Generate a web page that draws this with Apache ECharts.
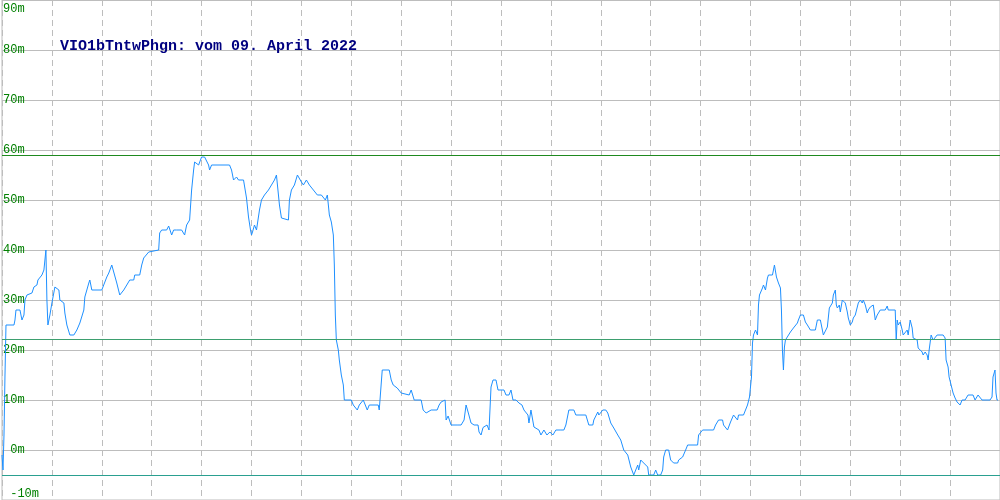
<!DOCTYPE html>
<html>
<head>
<meta charset="utf-8">
<script src="https://cdn.jsdelivr.net/npm/echarts@6/dist/echarts.min.js"></script>
<style>html,body{margin:0;padding:0;background:#fff;}#c{width:1000px;height:500px;}</style>
</head>
<body>
<div id="c"></div>
<script>
// ---- data ----
var titleText = "VIO1bTntwPhgn: vom 09. April 2022";
var yTicks = [-10, 0, 10, 20, 30, 40, 50, 60, 70, 80, 90];
var yTickLabels = [" -10m", " 0m", "10m", "20m", "30m", "40m", "50m", "60m", "70m", "80m", "90m"];
var markValues = [59, 22.1, -5];
var times = [0,1,2,3,4,12,13,14,18,20,22,23,25,30,32,35,36,38,40,42,43,44,45,46,48,50,53,55,57,58,62,63,65,68,72,75,78,82,83,85,87,88,90,100,105,107,110,115,118,122,125,128,132,133,138,140,142,147,148,157,158,160,165,167,168,170,172,175,180,183,185,188,190,192,193,197,200,203,207,208,210,228,230,232,235,237,242,245,247,249,250,251,253,255,258,260,263,267,270,273,275,277,278,280,287,288,290,293,296,298,300,302,305,308,312,316,320,324,326,328,330,332,333,334,335,337,338,340,342,343,350,352,356,358,362,366,368,377,378,380,381,388,390,392,396,400,408,410,413,420,422,425,430,436,438,440,444,445,447,450,456,460,463,465,467,470,473,477,478,480,482,486,488,490,492,495,497,503,505,508,510,512,515,518,521,523,527,528,530,532,533,538,540,543,546,549,552,555,560,563,565,566,568,573,575,585,588,592,593,597,598,600,602,605,607,610,613,617,620,623,627,630,633,635,637,638,640,643,645,647,648,653,655,657,660,662,663,665,668,670,673,675,677,678,682,685,687,697,698,702,713,715,718,722,723,727,730,733,735,737,738,743,745,747,748,749,751,752,753,755,757,758,759,760,762,763,765,767,768,772,773,774,776,778,780,781,782,783,784,785,787,790,793,797,798,800,803,805,807,810,815,817,820,823,825,827,829,832,833,835,836,837,839,840,842,845,847,848,850,852,853,855,857,858,860,862,863,865,867,868,870,872,873,874,875,877,879,880,885,887,888,895,896,897,898,900,902,903,905,907,908,910,912,913,915,917,918,920,922,923,925,927,928,929,931,933,935,937,943,945,946,948,949,951,952,953,955,957,958,960,962,965,968,973,975,978,980,982,990,992,993,995,996,997,998];
var values = [-1,-4,3,15,25,25,26,28,28,26,27,30,31,31.4,32.6,33,34,34,35,36,38,40,30,25,27,29.4,32.6,33,32,30,29.4,27.4,25,23,23,24,25.4,28,30.6,32,33.4,34,32,32,34.6,35.4,37,33.4,31,32,33,34,34,35,35,37,38.4,39.6,40,40,43.4,44,44,44.8,44.4,43,44,44,44,43,45,46,52,56,57.6,57,58.6,58.6,57,56,57,57,56,54,54.6,54,54,50.4,46.6,44,43,43.6,45,44,48,50,51,52,53,54,55,55,49,46.4,46,50,52,53,55,55,53.6,53,54,53,52,51,51,50,51,47,45.6,43,37,27,22,20,18,15,13,10,10,9,8,9,10,8,9,9,8,8,16,16,14,13,12.4,11.4,11,12,10,10,8,7.4,8,8,9,9.6,10,6,6.8,5,5,5,6,9,7.6,5.4,5,5,3.6,3,4.5,5,4,12.6,14,14,12,12,11,11,12,10,10,9.4,9,8,7,5.4,8,8,4.6,4,3,4,3,3.6,3,4,4,4,5,6,8,8,7,7,5,5,6,7.6,7,7,8,8,7.4,5.4,4.4,3,2,0,-1,-3.4,-5,-4,-3,-4,-2,-2.6,-3,-3.4,-5,-5,-4,-5,-5,-4,-1.4,0,0,-2,-2.6,-3,-2.6,-2,-1.4,0,1,1,3,4,4,5,6,6,5,4,5.6,7,6.6,6,7,7,8,9,9,10.6,14.6,21.4,23,24,23,29,31,31,32.4,33,32,34.4,35,35,36,37,34.6,33.4,32.4,28,20,16,20.6,22,22.4,23.6,24.4,25.4,26,27,27,25.6,25,24,24,26,26,23,23.4,24.6,28.4,29.4,31,32,29,28.4,29,27.6,30,29.4,27.6,26.4,25,25.6,26.4,27,27.4,29.4,30,29.4,30,29,27.4,28,28.6,29,29,27.6,26,27,27,28,28,28.8,28,28,22,26,25,25.6,24,23,23,24,23,26,24.4,22.4,22,22,20.4,20,19.6,19,19.6,19,18,20,23,22,22,23,23,22.4,18,16.6,14.6,13,12.6,11.4,10.4,9.6,9.6,9,10,10,11,11,10,11,11,10,10,10.6,14.6,16,11.4,10,10];

var seriesData = times.map(function (t, i) { return [t, values[i]]; });
var labelMap = {};
yTicks.forEach(function (v, i) { labelMap[v] = yTickLabels[i]; });
var yMin = yTicks[0], yMax = yTicks[yTicks.length - 1];

var chart = echarts.init(document.getElementById('c'), null, {renderer: 'canvas'});
chart.setOption({
  animation: false,
  backgroundColor: '#ffffff',
  title: {
    text: titleText,
    left: 60,
    top: 39,
    padding: 0,
    textStyle: {
      fontFamily: 'Liberation Mono',
      fontSize: 15,
      fontWeight: 'bold',
      color: '#000080'
    }
  },
  grid: {
    left: 0, right: 0, top: 0, bottom: 0,
    show: true,
    borderColor: '#bdbdbd',
    borderWidth: 1,
    containLabel: false
  },
  xAxis: {
    type: 'value',
    min: 0,
    max: 1000,
    interval: 50,
    axisLine: {show: false},
    axisTick: {show: false},
    axisLabel: {show: false},
    splitLine: {show: true, lineStyle: {color: '#bdbdbd', width: 1, type: [6, 4]}}
  },
  yAxis: {
    type: 'value',
    min: yMin,
    max: yMax,
    interval: 10,
    axisLine: {show: false},
    axisTick: {show: false},
    axisLabel: {
      inside: true,
      margin: 1,
      color: '#008000',
      fontFamily: 'Liberation Mono',
      fontSize: 12,
      verticalAlign: 'middle',
      verticalAlignMaxLabel: 'top',
      verticalAlignMinLabel: 'bottom',
      formatter: function (v) {
        var s = labelMap[v] !== undefined ? labelMap[v] : '';
        if (v === yMax) return '{top|' + s + '}';
        if (v === yMin) return '{bot|' + s + '}';
        return s;
      },
      rich: {
        top: {color: '#008000', fontFamily: 'Liberation Mono', fontSize: 12, padding: [3, 0, 0, 0]},
        bot: {color: '#008000', fontFamily: 'Liberation Mono', fontSize: 12, padding: [0, 0, 0, 0]}
      }
    },
    splitLine: {show: true, lineStyle: {color: '#bdbdbd', width: 1}}
  },
  series: [{
    type: 'line',
    data: seriesData,
    showSymbol: false,
    symbol: 'none',
    lineStyle: {color: '#1e90ff', width: 1},
    z: 3,
    markLine: {
      silent: true,
      symbol: ['none', 'none'],
      label: {show: false},
      animation: false,
      data: [
        {yAxis: markValues[0], lineStyle: {color: '#1f8a1f', width: 1, type: 'solid'}},
        {yAxis: markValues[1], lineStyle: {color: '#3d9f6f', width: 1, type: 'solid'}},
        {yAxis: markValues[2], lineStyle: {color: '#2aa090', width: 1, type: 'solid'}}
      ]
    }
  }]
});
</script>
</body>
</html>
